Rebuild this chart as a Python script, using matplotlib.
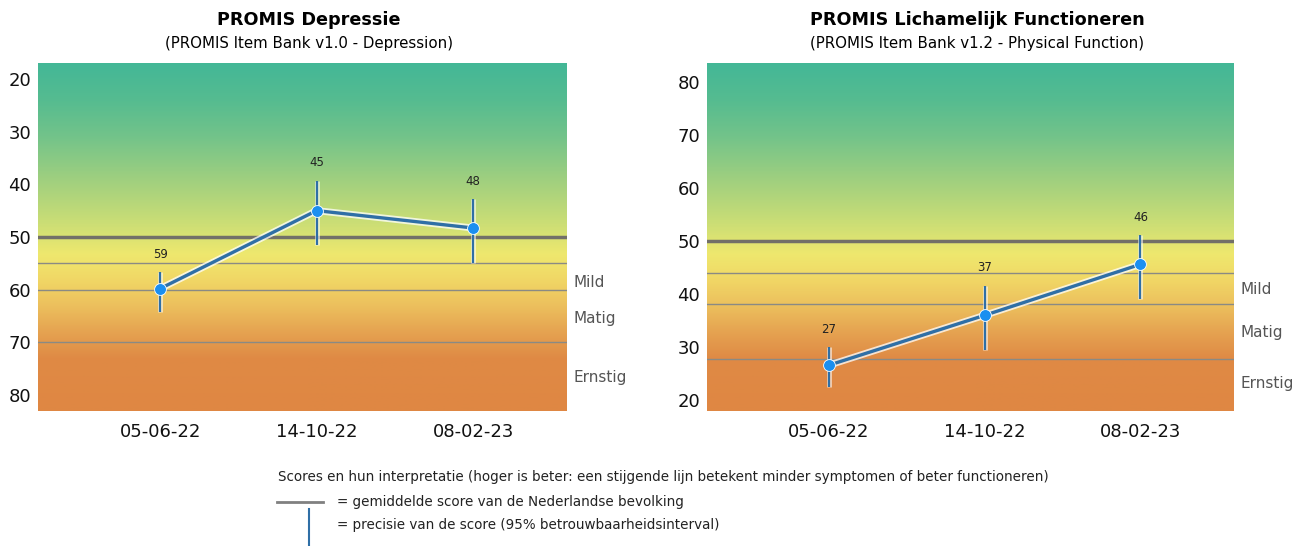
import numpy as np
import matplotlib
matplotlib.use("Agg")
import matplotlib.pyplot as plt
import matplotlib.patheffects as pe
from matplotlib.colors import LinearSegmentedColormap
from matplotlib.lines import Line2D

# data
dates = ["05-06-22", "14-10-22", "08-02-23"]

dep_scores = [59.8, 45.0, 48.3]
dep_labels = ["59", "45", "48"]
dep_low = [56.7, 39.3, 42.8]
dep_high = [64.3, 51.5, 54.9]
dep_norm = 50
dep_cuts = [55, 60, 70]
dep_bands = ["Mild", "Matig", "Ernstig"]
dep_band_pos = [58.6, 65.5, 76.6]
dep_ticks = [20, 30, 40, 50, 60, 70, 80]

pf_scores = [26.6, 36.0, 45.6]
pf_labels = ["27", "37", "46"]
pf_low = [22.5, 29.5, 39.0]
pf_high = [30.0, 41.6, 51.1]
pf_norm = 50
pf_cuts = [44, 38.2, 27.7]
pf_bands = ["Mild", "Matig", "Ernstig"]
pf_band_pos = [40.9, 32.8, 23.1]
pf_ticks = [20, 30, 40, 50, 60, 70, 80]

# background gradient (0 = bottom of plot, 1 = top)
grad_stops = [
    (0.00, "#df8743"),
    (0.15, "#df8a45"),
    (0.22, "#e5a150"),
    (0.30, "#ecbf5d"),
    (0.38, "#f1d866"),
    (0.45, "#eee86e"),
    (0.52, "#d2e074"),
    (0.64, "#a8d27d"),
    (0.79, "#72c38a"),
    (0.89, "#56bc90"),
    (1.00, "#43b797"),
]
cmap = LinearSegmentedColormap.from_list("promis", grad_stops)

line_col = "#2f6fa6"
dot_col = "#1b8ff0"
glow = [pe.Stroke(linewidth=5, foreground="white", alpha=0.75), pe.Normal()]

fig = plt.figure(figsize=(13.02, 5.46), dpi=100)


def panel(rect, scores, labels, low, high, norm, cuts, bands, band_pos,
          ticks, ylim, title, subtitle):
    ax = fig.add_axes(rect)
    grad = np.linspace(0, 1, 256).reshape(-1, 1)
    ax.imshow(grad, extent=[0, 1, 0, 1], transform=ax.transAxes,
              cmap=cmap, origin="lower", aspect="auto", zorder=0)
    x = np.arange(len(dates))
    ax.set_xlim(-0.78, 2.6)
    ax.set_ylim(*ylim)
    inverted = ylim[0] > ylim[1]

    ax.axhline(norm, color="#727068", lw=2.5, zorder=2)
    for c in cuts:
        ax.axhline(c, color="#8a8a84", lw=1, zorder=2)

    ax.vlines(x, low, high, color=line_col, lw=1.6, zorder=3,
              path_effects=[pe.Stroke(linewidth=3.5, foreground="white", alpha=0.6), pe.Normal()])
    ax.plot(x, scores, color=line_col, lw=2.4, zorder=4, path_effects=glow)
    ax.plot(x, scores, "o", color=dot_col, ms=8.5, mec="white", mew=0.6, zorder=5)

    # score label just above the top end of the interval
    tops = low if inverted else high
    for xi, t, lab in zip(x, tops, labels):
        ax.annotate(lab, (xi, t), xytext=(0, 8), textcoords="offset points",
                    ha="center", va="bottom", fontsize=8.5, color="#222222")

    for b, yb in zip(bands, band_pos):
        ax.text(1.012, yb, b, transform=ax.get_yaxis_transform(),
                ha="left", va="center", fontsize=11, color="#555555")

    ax.set_xticks(x)
    ax.set_xticklabels(dates, fontsize=13, color="#111111")
    ax.set_yticks(ticks)
    ax.set_yticklabels([str(t) for t in ticks], fontsize=13, color="#111111")
    ax.tick_params(axis="x", length=0, pad=9)
    ax.tick_params(axis="y", length=0, pad=5)
    for s in ax.spines.values():
        s.set_visible(False)

    cx = rect[0] + rect[2] / 2 + 0.005
    fig.text(cx, 0.963, title, ha="center", va="center", fontsize=12.7, fontweight="bold")
    fig.text(cx, 0.921, subtitle, ha="center", va="center", fontsize=10.8)
    return ax


panel([38 / 1302, 0.2473, 529 / 1302, 0.6374], dep_scores, dep_labels, dep_low, dep_high,
      dep_norm, dep_cuts, dep_bands, dep_band_pos, dep_ticks, (83, 17),
      "PROMIS Depressie", "(PROMIS Item Bank v1.0 - Depression)")
panel([707 / 1302, 0.2473, 527 / 1302, 0.6374], pf_scores, pf_labels, pf_low, pf_high,
      pf_norm, pf_cuts, pf_bands, pf_band_pos, pf_ticks, (18.0, 83.5),
      "PROMIS Lichamelijk Functioneren", "(PROMIS Item Bank v1.2 - Physical Function)")

# legend below the charts
W, H = 1302, 546
fig.text(278 / W, 1 - 477 / H,
         "Scores en hun interpretatie (hoger is beter: een stijgende lijn betekent minder symptomen of beter functioneren)",
         ha="left", va="center", fontsize=9.75, color="#222222")
fig.add_artist(Line2D([277 / W, 323 / W], [1 - 502 / H, 1 - 502 / H], color="#808080", lw=2))
fig.text(337 / W, 1 - 502 / H, "= gemiddelde score van de Nederlandse bevolking",
         ha="left", va="center", fontsize=9.75, color="#222222")
fig.add_artist(Line2D([309 / W, 309 / W], [1 - 509 / H, 0], color=line_col, lw=1.5))
fig.text(337 / W, 1 - 525 / H, "= precisie van de score (95% betrouwbaarheidsinterval)",
         ha="left", va="center", fontsize=9.75, color="#222222")

fig.savefig("out.png", dpi=100)
